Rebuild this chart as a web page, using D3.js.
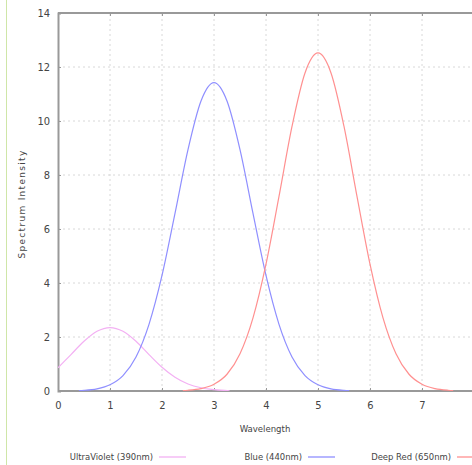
<!DOCTYPE html>
<html>
<head>
<meta charset="utf-8">
<script src="https://cdn.jsdelivr.net/npm/d3@7"></script>
<style>
  body { margin: 0; background: #fff; }
  svg { display: block; }
  .tick text { font-family: "Liberation Sans Narrow", "DejaVu Sans Condensed", sans-serif; font-size: 11px; fill: #444; }
</style>
</head>
<body>
<div id="chart"></div>
<script>
// values
const uvX = [0, 0.25, 0.5, 0.75, 1.0, 1.25, 1.5, 1.75, 2.0, 2.25, 2.5, 2.75, 3.0, 3.3];
const uvY = [0.86, 1.35, 1.84, 2.21, 2.35, 2.21, 1.84, 1.35, 0.88, 0.51, 0.26, 0.12, 0.05, 0.01];

const blueX = [0.4, 0.5, 0.75, 1.0, 1.25, 1.5, 1.75, 2.0, 2.25, 2.5, 2.75, 3.0, 3.25, 3.5, 3.75, 4.0, 4.25, 4.5, 4.75, 5.0, 5.25, 5.5, 5.6];
const blueY = [0.015, 0.025, 0.08, 0.23, 0.57, 1.26, 2.47, 4.28, 6.58, 8.94, 10.74, 11.42, 10.74, 8.94, 6.58, 4.28, 2.47, 1.26, 0.57, 0.23, 0.08, 0.025, 0.015];

const redX = [2.4, 2.5, 2.75, 3.0, 3.25, 3.5, 3.75, 4.0, 4.25, 4.5, 4.75, 5.0, 5.25, 5.5, 5.75, 6.0, 6.25, 6.5, 6.75, 7.0, 7.25, 7.5, 7.6];
const redY = [0.017, 0.028, 0.088, 0.25, 0.62, 1.38, 2.71, 4.70, 7.21, 9.80, 11.78, 12.52, 11.78, 9.80, 7.21, 4.70, 2.71, 1.38, 0.62, 0.25, 0.088, 0.028, 0.017];

const xTicks = [0, 1, 2, 3, 4, 5, 6, 7];
const yTicks = [0, 2, 4, 6, 8, 10, 12, 14];

const seriesNames = ["UltraViolet (390nm)", "Blue (440nm)", "Deep Red (650nm)"];
const seriesColors = ["#f3b0f3", "#8f8fff", "#ff9090"];

const width = 472, height = 465;
const svg = d3.select("#chart").append("svg")
  .attr("width", width)
  .attr("height", height);

// pale green strip on the left
svg.append("line")
  .attr("x1", 6.5).attr("x2", 6.5)
  .attr("y1", 0).attr("y2", height)
  .attr("stroke", "#cfe6a8")
  .attr("stroke-width", 1);

const xScale = d3.scaleLinear().domain([0, 8]).range([58, 474]);
const yScale = d3.scaleLinear().domain([0, 14]).range([391, 13]);

// grid
svg.append("g")
  .selectAll("line")
  .data(xTicks.slice(1))
  .enter()
  .append("line")
  .attr("x1", d => xScale(d)).attr("x2", d => xScale(d))
  .attr("y1", yScale(0)).attr("y2", yScale(14))
  .attr("stroke", "#d8d8d8")
  .attr("stroke-dasharray", "2,3");

svg.append("g")
  .selectAll("line")
  .data(yTicks.slice(1, -1))
  .enter()
  .append("line")
  .attr("x1", xScale(0)).attr("x2", width)
  .attr("y1", d => yScale(d)).attr("y2", d => yScale(d))
  .attr("stroke", "#d8d8d8")
  .attr("stroke-dasharray", "2,3");

// axes
const xAxis = svg.append("g")
  .attr("transform", `translate(0, ${yScale(0)})`)
  .call(d3.axisBottom(xScale).tickValues(xTicks).tickSize(-3).tickPadding(10).tickFormat(d3.format("d")));

const yAxis = svg.append("g")
  .attr("transform", `translate(${xScale(0)}, 0)`)
  .call(d3.axisLeft(yScale).tickValues(yTicks).tickSize(-3).tickPadding(8).tickFormat(d3.format("d")));

const xTop = svg.append("g")
  .attr("transform", `translate(0, ${yScale(14)})`)
  .call(d3.axisTop(xScale).tickValues(xTicks).tickSize(-3).tickFormat(""));

[xAxis, yAxis, xTop].forEach(g => {
  g.select(".domain").attr("stroke", "#999").attr("stroke-width", 2);
  g.selectAll(".tick line").attr("stroke", "#999");
});
xAxis.select(".domain").attr("d", `M${xScale(0)},0H${width}`);
xTop.select(".domain").attr("d", `M${xScale(0)},0H${width}`);

// curves
svg.append("clipPath").attr("id", "plot-clip")
  .append("rect")
  .attr("x", xScale(0)).attr("y", yScale(14))
  .attr("width", width - xScale(0)).attr("height", yScale(0) - yScale(14));

const line = d3.line()
  .x(d => xScale(d[0]))
  .y(d => yScale(d[1]))
  .curve(d3.curveMonotoneX);

const series = [
  d3.zip(uvX, uvY),
  d3.zip(blueX, blueY),
  d3.zip(redX, redY)
];

svg.append("g")
  .attr("clip-path", "url(#plot-clip)")
  .selectAll("path")
  .data(series)
  .enter()
  .append("path")
  .attr("d", line)
  .attr("fill", "none")
  .attr("stroke", (d, i) => seriesColors[i])
  .attr("stroke-width", 1.2);

// axis titles
svg.append("text")
  .attr("x", 265)
  .attr("y", 432)
  .attr("text-anchor", "middle")
  .style("font-family", "'Liberation Sans Narrow', 'DejaVu Sans Condensed', sans-serif")
  .style("font-size", "9.5px")
  .style("fill", "#444")
  .text("Wavelength");

svg.append("text")
  .attr("transform", "rotate(-90)")
  .attr("x", -204)
  .attr("y", 25)
  .attr("text-anchor", "middle")
  .style("font-family", "'DejaVu Sans', sans-serif")
  .style("font-size", "9px")
  .style("letter-spacing", "1.3px")
  .style("fill", "#444")
  .text("Spectrum Intensity");

// legend
const legendEnds = [153, 302, 451];
const legend = svg.append("g").attr("class", "legend");

legend.selectAll("text")
  .data(seriesNames)
  .enter()
  .append("text")
  .attr("x", (d, i) => legendEnds[i])
  .attr("y", 460)
  .attr("text-anchor", "end")
  .style("font-family", "'Liberation Sans Narrow', 'DejaVu Sans Condensed', sans-serif")
  .style("font-size", "9.4px")
  .style("fill", "#444")
  .text(d => d);

legend.selectAll("line")
  .data(seriesNames)
  .enter()
  .append("line")
  .attr("x1", (d, i) => legendEnds[i] + 6)
  .attr("x2", (d, i) => legendEnds[i] + 33)
  .attr("y1", 457).attr("y2", 457)
  .attr("stroke", (d, i) => seriesColors[i])
  .attr("stroke-width", 1.3);
</script>
</body>
</html>
